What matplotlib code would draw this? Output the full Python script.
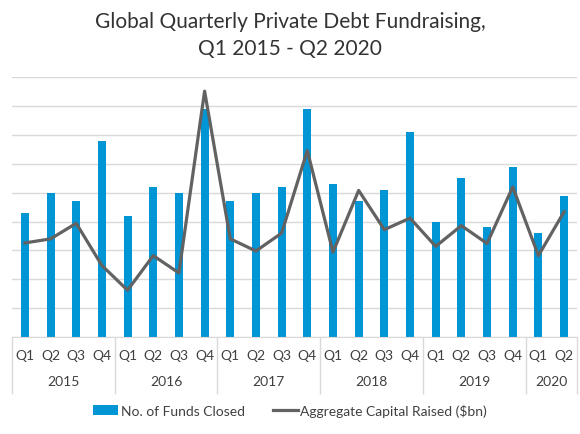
import numpy as np
import matplotlib.pyplot as plt
from matplotlib.patches import Patch
from matplotlib.lines import Line2D

plt.rcParams["font.family"] = ["Lato", "DejaVu Sans"]

# ---------- data ----------
years = ["2015", "2016", "2017", "2018", "2019", "2020"]
quarters = ["Q1", "Q2", "Q3", "Q4"] * 5 + ["Q1", "Q2"]
funds_closed = [43, 50, 47, 68, 42, 52, 50, 79, 47, 50, 52, 79,
                53, 47, 51, 71, 40, 55, 38, 59, 36, 49]
capital_bn = [16.3, 17.0, 19.7, 12.4, 8.1, 14.1, 11.1, 42.6, 17.0, 14.9, 18.0, 32.3,
              14.7, 25.4, 18.6, 20.6, 15.7, 19.3, 16.2, 26.0, 14.1, 21.7]
quarters_per_year = [4, 4, 4, 4, 4, 2]

BLUE = "#0096d6"
GREY = "#626262"
GRID = "#d9d9d9"

fig = plt.figure(figsize=(5.8, 4.35), dpi=100)
ax = fig.add_axes([0.0207, 0.223, 0.974, 0.597])
ax2 = ax.twinx()

x = np.arange(len(quarters))
ax.bar(x, funds_closed, width=0.31, color=BLUE, zorder=2)
ax2.plot(x, capital_bn, color=GREY, linewidth=2.3, zorder=3)

ax.set_xlim(-0.5, len(quarters) - 0.5)
ax.set_ylim(0, 90)
ax2.set_ylim(0, 45)
ax.set_yticks(np.arange(0, 91, 10))
ax.yaxis.grid(True, color=GRID, linewidth=1.0)
ax.set_axisbelow(True)
ax.tick_params(axis="y", left=False, labelleft=False)
ax2.tick_params(axis="y", right=False, labelright=False)
for a in (ax, ax2):
    for s in a.spines.values():
        s.set_visible(False)
ax.spines["bottom"].set_visible(True)
ax.spines["bottom"].set_color(GRID)

# two-level category axis
ax.set_xticks(x)
ax.set_xticklabels(quarters, fontsize=10, color="#404040")
ax.tick_params(axis="x", which="major", length=0, pad=9)
bounds = np.concatenate([[0], np.cumsum(quarters_per_year)]) - 0.5
ax.set_xticks(bounds, minor=True)
ax.tick_params(axis="x", which="minor", length=41, color=GRID, width=1.0)

for i, yr in enumerate(years):
    mid = (bounds[i] + bounds[i + 1]) / 2
    ax.text(mid, -0.17, yr, transform=ax.get_xaxis_transform(),
            ha="center", va="center", fontsize=10, color="#404040")

fig.text(0.5, 0.972, "Global Quarterly Private Debt Fundraising,\nQ1 2015 - Q2 2020",
         ha="center", va="top", fontsize=15, color="#333333", linespacing=1.45)

handles = [Patch(facecolor=BLUE, edgecolor="none"),
           Line2D([0], [0], color=GREY, linewidth=2.3)]
fig.legend(handles, ["No. of Funds Closed", "Aggregate Capital Raised ($bn)"],
           loc="center", bbox_to_anchor=(0.5, 0.055), ncol=2, frameon=False,
           fontsize=10, handlelength=1.8, handletextpad=0.2, columnspacing=2.0,
           labelcolor="#404040")

fig.savefig("out.png", dpi=100)
